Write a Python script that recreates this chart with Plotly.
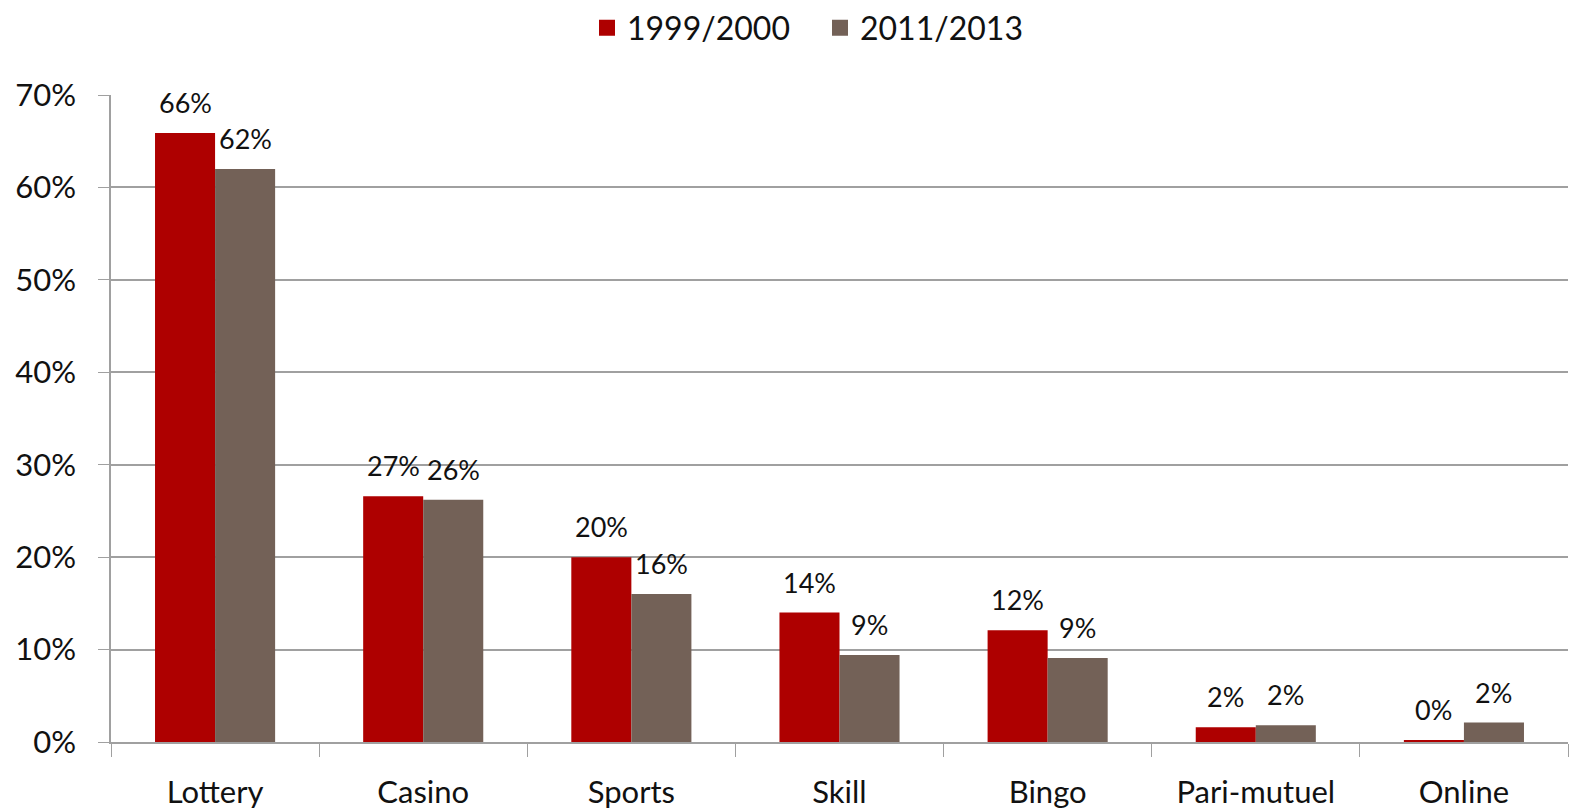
import plotly.graph_objects as go

categories = ["Lottery", "Casino", "Sports", "Skill", "Bingo", "Pari-mutuel", "Online"]
series_names = ["1999/2000", "2011/2013"]
values_1999 = [65.9, 26.6, 20.0, 14.0, 12.1, 1.6, 0.2]
values_2011 = [62.0, 26.2, 16.0, 9.4, 9.1, 1.8, 2.1]
colors = ["#AE0000", "#736157"]
y_ticks = [0, 10, 20, 30, 40, 50, 60, 70]
y_tick_text = [f"{t}%" for t in y_ticks]

FONT = "Lato"
fig = go.Figure()
for name, vals, col in zip(series_names, [values_1999, values_2011], colors):
    fig.add_trace(go.Bar(
        x=categories, y=vals, name=name, marker_color=col, marker_line_width=0,
        showlegend=False, legendgroup=name, cliponaxis=False,
    ))
# legend proxies with larger square symbols
for name, col in zip(series_names, colors):
    fig.add_trace(go.Scatter(
        x=[None], y=[None], mode="markers", name=name, legendgroup=name,
        marker=dict(symbol="square", size=22, color=col), showlegend=True,
    ))

# data labels above each bar (grouped bars: half-bar-width pixel offset)
bar_half = 30
for shift, vals in zip([-bar_half, bar_half], [values_1999, values_2011]):
    for cat, v in zip(categories, vals):
        fig.add_annotation(x=cat, y=v, xref="x", yref="y", text=f"{round(v)}%",
                           showarrow=False, xshift=shift, yanchor="bottom", yshift=12,
                           font=dict(family=FONT, size=27, color="#111111"))

fig.update_layout(
    width=1570, height=809,
    margin=dict(l=111, r=2, t=95, b=67, autoexpand=False),
    paper_bgcolor="white", plot_bgcolor="white",
    barmode="group", bargap=0.423, bargroupgap=0,
    font=dict(family=FONT, size=30, color="#111111"),
    legend=dict(orientation="h", x=587 / 1570, xanchor="left", xref="container",
                y=1 - 28 / 809, yanchor="middle", yref="container",
                font=dict(family=FONT, size=32), itemwidth=30, traceorder="normal",
                entrywidth=188, entrywidthmode="pixels"),
    showlegend=True,
)
fig.update_yaxes(range=[0, 70], tickvals=y_ticks, ticktext=y_tick_text,
                 showgrid=True, gridcolor="#A0A0A0", gridwidth=1.5,
                 showline=True, linecolor="#A0A0A0", linewidth=1.5,
                 ticks="outside", ticklen=11, tickcolor="#A0A0A0",
                 ticklabelstandoff=16, automargin=False,
                 tickfont=dict(family=FONT, size=31), zeroline=False)
fig.update_xaxes(showline=True, linecolor="#A0A0A0", linewidth=1.5,
                 ticks="outside", tickson="boundaries", ticklen=13, tickcolor="#A0A0A0",
                 ticklabelstandoff=22, automargin=False,
                 tickfont=dict(family=FONT, size=31), showgrid=False)

fig.write_html("out.html", config={"displayModeBar": False},
               post_script="document.body.style.margin='0';document.body.style.overflow='hidden';")
